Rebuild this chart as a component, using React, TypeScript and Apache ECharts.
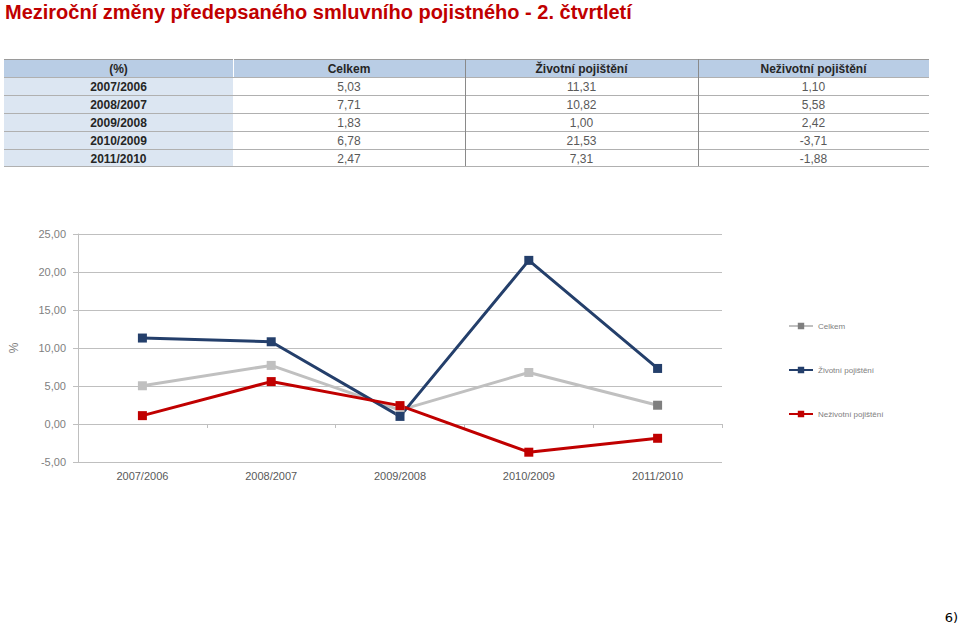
import React, { useEffect, useRef } from "react";
import * as echarts from "echarts";

const categories = ["2007/2006", "2008/2007", "2009/2008", "2010/2009", "2011/2010"];
const seriesNames = ["Celkem", "Životní pojištění", "Neživotní pojištění"];
const celkem = [5.03, 7.71, 1.83, 6.78, 2.47];
const zivotni = [11.31, 10.82, 1.0, 21.53, 7.31];
const nezivotni = [1.1, 5.58, 2.42, -3.71, -1.88];
const tableHeader = ["(%)", "Celkem", "Životní pojištění", "Neživotní pojištění"];
const titleText = "Meziroční změny předepsaného smluvního pojistného - 2. čtvrtletí";
const footnote = "6)";

const fmt = (v: number) => v.toFixed(2).replace(".", ",");

export default function App() {
  const ref = useRef<HTMLDivElement>(null);
  useEffect(() => {
    if (!ref.current) return;
    const chart = echarts.init(ref.current, null, { renderer: "svg" });
    const font = "'Liberation Sans', Arial, sans-serif";
    const colX = [4, 233, 465, 698, 929];
    const rowY = [59, 77, 95, 113, 131, 149, 166];
    const g: any[] = [];
    g.push({
      type: "text", left: 5, top: 2,
      style: { text: titleText, fill: "#c00000", font: `bold 20px ${font}` },
    });
    g.push({ type: "rect", shape: { x: colX[0], y: rowY[0], width: colX[4] - colX[0], height: rowY[1] - rowY[0] }, style: { fill: "#b9cde5" } });
    g.push({ type: "rect", shape: { x: colX[0], y: rowY[1], width: colX[1] - colX[0], height: rowY[6] - rowY[1] }, style: { fill: "#dce6f2" } });
    rowY.forEach((y, i) => {
      g.push({ type: "line", shape: { x1: colX[0], y1: y + 0.5, x2: colX[4], y2: y + 0.5 }, style: { stroke: i === 0 ? "#9a9a9a" : "#b0b0b0", lineWidth: 1 } });
    });
    g.push({ type: "line", shape: { x1: colX[1] + 0.5, y1: rowY[0], x2: colX[1] + 0.5, y2: rowY[1] }, style: { stroke: "#ffffff", lineWidth: 1 } });
    [2, 3].forEach((c) => {
      g.push({ type: "line", shape: { x1: colX[c] + 0.5, y1: rowY[0], x2: colX[c] + 0.5, y2: rowY[6] }, style: { stroke: "#8a8a8a", lineWidth: 1 } });
    });
    tableHeader.forEach((t, c) => {
      g.push({
        type: "text", x: (colX[c] + colX[c + 1]) / 2, y: (rowY[0] + rowY[1]) / 2 + 1,
        style: { text: t, fill: "#262626", font: `bold 12px ${font}`, align: "center", verticalAlign: "middle" },
      });
    });
    const cols = [celkem, zivotni, nezivotni];
    categories.forEach((cat, r) => {
      const cy = (rowY[r + 1] + rowY[r + 2]) / 2 + 1;
      g.push({
        type: "text", x: (colX[0] + colX[1]) / 2, y: cy,
        style: { text: cat, fill: "#262626", font: `bold 12px ${font}`, align: "center", verticalAlign: "middle" },
      });
      cols.forEach((arr, c) => {
        g.push({
          type: "text", x: (colX[c + 1] + colX[c + 2]) / 2, y: cy,
          style: { text: fmt(arr[r]), fill: "#595959", font: `12px ${font}`, align: "center", verticalAlign: "middle" },
        });
      });
    });
    g.push({
      type: "text", x: 958, y: 617,
      style: { text: footnote, fill: "#000000", font: `13px 'DejaVu Sans', sans-serif`, align: "right", verticalAlign: "middle" },
    });

    const gray = "#bfbfbf";
    chart.setOption({
      animation: false,
      textStyle: { fontFamily: font },
      grid: { left: 73, right: 238, top: 234, bottom: 163 },
      legend: {
        orient: "vertical", left: 783, top: 317, itemGap: 36,
        itemWidth: 24, itemHeight: 8,
        textStyle: { fontSize: 8, color: "#808080" },
        data: seriesNames,
      },
      graphic: g,
      xAxis: [
        {
          type: "category", data: categories, boundaryGap: true,
          axisLine: { show: false, onZero: false },
          axisTick: { show: false },
          axisLabel: { color: "#595959", fontSize: 11, margin: 8 },
        },
        {
          type: "category", data: categories, boundaryGap: true, position: "bottom",
          axisLine: { show: true, onZero: true, lineStyle: { color: gray } },
          axisTick: { show: true, length: 4, lineStyle: { color: gray } },
          axisLabel: { show: false },
        },
      ],
      yAxis: {
        type: "value", min: -5, max: 25, interval: 5,
        name: "%", nameLocation: "middle", nameGap: 58, nameRotate: 90,
        nameTextStyle: { color: "#808080", fontSize: 12 },
        axisLine: { show: true, lineStyle: { color: gray } },
        axisTick: { show: true, length: 5, lineStyle: { color: gray } },
        axisLabel: { color: "#808080", fontSize: 11, margin: 12, formatter: (v: number) => fmt(v) },
        splitLine: { lineStyle: { color: gray } },
      },
      series: [
        {
          name: seriesNames[0], type: "line", symbol: "rect", symbolSize: 9,
          lineStyle: { color: "#c0c0c0", width: 3 },
          itemStyle: { color: "#7f7f7f" },
          data: celkem.map((v, i) => (i < celkem.length - 1 ? { value: v, itemStyle: { color: "#c0c0c0" } } : v)),
        },
        {
          name: seriesNames[1], type: "line", symbol: "rect", symbolSize: 9,
          lineStyle: { color: "#243f6b", width: 3 },
          itemStyle: { color: "#243f6b" },
          data: zivotni,
        },
        {
          name: seriesNames[2], type: "line", symbol: "rect", symbolSize: 9,
          lineStyle: { color: "#c00000", width: 3 },
          itemStyle: { color: "#c00000" },
          data: nezivotni,
        },
      ],
    });
    return () => chart.dispose();
  }, []);
  return <div ref={ref} style={{ position: "fixed", left: 0, top: 0, width: 960, height: 625, background: "#fff" }} />;
}
